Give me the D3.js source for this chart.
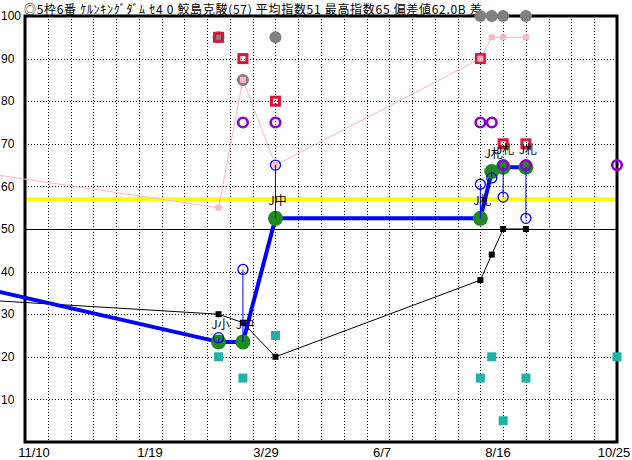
<!DOCTYPE html>
<html>
<head>
<meta charset="utf-8">
<script src="https://cdn.jsdelivr.net/npm/d3@7"></script>
<style>
html,body{margin:0;padding:0;background:#fff;}
svg{display:block;}
</style>
</head>
<body>
<script>
// ---- data ----
const titleText = "◎5枠6番 ｹﾙﾝｷﾝｸﾞﾀﾞﾑ ｾ4 0 鮫島克駿(57) 平均指数51 最高指数65 偏差値62.0B 差";
const raceDates = ["2023-08-12","2024-02-23","2024-03-09","2024-03-29","2024-08-02","2024-08-09","2024-08-16","2024-08-30"];
const raceLabels = ["", "J小", "J中", "J中", "J札", "J札", "J札", "J札"];
const indexValues = [40.5, 23.5, 23.5, 52.5, 52.5, 63.5, 64.5, 64.5];
const blackValues = [34.5, 30, 28, 20, 38, 44, 50, 50];
const pinkValues = [66, 55, 85, 65, 90, 95, 95, 95];
const grayValues = [null, 95, 85, 95, 100, 100, 100, 100];
const crimsonValues = [null, 95, 90, 80, 90, null, 70, 70];
const purpleValues = [null, null, 75, 75, 75, 75, 65, 65];
const blueRingValues = [null, 24.5, 40.5, 65, 60.5, 62, 57.5, 52.5];
const tealValues = [null, 20, 15, 25, 15, 20, 5, 15];
const todayDate = "2024-10-25";
const todayPurple = 65;
const todayTeal = 20;
const averageValue = 57;
const baseValue = 50;
const yTickValues = [10, 20, 30, 40, 50, 60, 70, 80, 90, 100];
const xTickLabels = ["11/10", "1/19", "3/29", "6/7", "8/16", "10/25"];
const domainStart = "2023-10-27";
const domainEnd = "2024-10-25";
const gridStart = "2023-11-10";

// ---- setup ----
const W = 632, H = 460;
const L = 25, R = 617, T = 16, B = 442;
const parse = d3.timeParse("%Y-%m-%d");
const x = d3.scaleTime().domain([parse(domainStart), parse(domainEnd)]).range([L, R]);
const y = d3.scaleLinear().domain([0, 100]).range([B, T]);
const xl = d3.scalePoint().domain(xTickLabels).range([34, 614]);

const svg = d3.select("body").append("svg").attr("width", W).attr("height", H);
svg.append("rect").attr("width", W).attr("height", H).attr("fill", "#fff");

const races = raceDates.map((d, i) => ({
  date: parse(d), label: raceLabels[i], idx: indexValues[i], blk: blackValues[i],
  pink: pinkValues[i], gray: grayValues[i], crim: crimsonValues[i],
  purp: purpleValues[i], ring: blueRingValues[i], teal: tealValues[i]
}));
const today = parse(todayDate);

// grid
const grid = svg.append("g").attr("shape-rendering", "crispEdges");
const vDates = d3.timeDay.range(parse(gridStart), parse(domainEnd), 14);
grid.selectAll("line.v").data(vDates).join("line")
  .attr("x1", d => Math.round(x(d)) + 0.5).attr("x2", d => Math.round(x(d)) + 0.5)
  .attr("y1", T).attr("y2", B)
  .attr("stroke", "#000").attr("stroke-width", 1).attr("stroke-dasharray", "1,2");
grid.selectAll("line.h").data(yTickValues.filter(v => v !== baseValue && v !== 100)).join("line")
  .attr("x1", L).attr("x2", R)
  .attr("y1", d => Math.round(y(d)) + 0.5).attr("y2", d => Math.round(y(d)) + 0.5)
  .attr("stroke", "#000").attr("stroke-width", 1).attr("stroke-dasharray", "1,2");
grid.append("line")
  .attr("x1", L).attr("x2", R)
  .attr("y1", Math.round(y(baseValue)) + 0.5).attr("y2", Math.round(y(baseValue)) + 0.5)
  .attr("stroke", "#000").attr("stroke-width", 1);

// average (yellow) line
svg.append("line").attr("x1", L).attr("x2", R)
  .attr("y1", y(averageValue)).attr("y2", y(averageValue))
  .attr("stroke", "#ffff00").attr("stroke-width", 4);

// frame
svg.append("rect").attr("x", L).attr("y", T).attr("width", R - L).attr("height", B - T)
  .attr("fill", "none").attr("stroke", "#000").attr("stroke-width", 3);

// y tick labels
svg.append("g").selectAll("text").data(yTickValues).join("text")
  .attr("x", 1).attr("y", d => y(d)).attr("dy", "0.35em")
  .attr("font-family", "Liberation Sans, Arial, sans-serif").attr("font-size", 12)
  .attr("fill", "#000").text(d => d);

// x tick labels
svg.append("g").selectAll("text").data(xTickLabels).join("text")
  .attr("x", d => xl(d)).attr("y", 457).attr("text-anchor", "middle")
  .attr("font-family", "Liberation Sans, Arial, sans-serif").attr("font-size", 13)
  .attr("fill", "#000").text(d => d);

// title
svg.append("text").attr("x", 24).attr("y", 14)
  .attr("font-family", "Noto Sans CJK JP, sans-serif").attr("font-size", 12)
  .attr("letter-spacing", 0.7)
  .attr("fill", "#000").text(titleText);

// lines
const lineOf = key => d3.line().x(d => x(d.date)).y(d => y(d[key]));
svg.append("path").datum(races).attr("d", lineOf("pink"))
  .attr("fill", "none").attr("stroke", "#ffb6c1").attr("stroke-width", 1);
svg.append("path").datum(races).attr("d", lineOf("blk"))
  .attr("fill", "none").attr("stroke", "#000").attr("stroke-width", 1);
svg.append("path").datum(races).attr("d", lineOf("idx"))
  .attr("fill", "none").attr("stroke", "#0000ff").attr("stroke-width", 4).attr("stroke-linejoin", "round");

// gray circles
svg.append("g").selectAll("circle").data(races.filter(d => d.gray != null)).join("circle")
  .attr("cx", d => x(d.date)).attr("cy", d => y(d.gray)).attr("r", 6).attr("fill", "#808080");
// crimson hollow squares
svg.append("g").selectAll("rect").data(races.filter(d => d.crim != null)).join("rect")
  .attr("x", d => x(d.date) - 4).attr("y", d => y(d.crim) - 4).attr("width", 8).attr("height", 8)
  .attr("fill", "none").attr("stroke", "#dc143c").attr("stroke-width", 3);
// pink squares
svg.append("g").selectAll("rect").data(races.slice(1)).join("rect")
  .attr("x", d => x(d.date) - 3).attr("y", d => y(d.pink) - 3).attr("width", 6).attr("height", 6)
  .attr("fill", "#ffb6c1");
// black squares
svg.append("g").selectAll("rect").data(races.slice(1)).join("rect")
  .attr("x", d => x(d.date) - 3).attr("y", d => y(d.blk) - 3).attr("width", 6).attr("height", 6)
  .attr("fill", "#000");
// green circles
svg.append("g").selectAll("circle").data(races.slice(1)).join("circle")
  .attr("cx", d => x(d.date)).attr("cy", d => y(d.idx)).attr("r", 7.5).attr("fill", "#1f8a1f");
// blue connectors & rings
const rings = races.filter(d => d.ring != null);
svg.append("g").selectAll("line").data(rings).join("line")
  .attr("x1", d => x(d.date)).attr("x2", d => x(d.date))
  .attr("y1", d => y(d.ring)).attr("y2", d => y(d.idx))
  .attr("stroke", "#0000ff").attr("stroke-width", 1);
svg.append("g").selectAll("circle").data(rings).join("circle")
  .attr("cx", d => x(d.date)).attr("cy", d => y(d.ring)).attr("r", 5)
  .attr("fill", "none").attr("stroke", "#0000ff").attr("stroke-width", 1.3);
// purple rings
const purp = races.filter(d => d.purp != null).map(d => ({date: d.date, v: d.purp}))
  .concat([{date: today, v: todayPurple}]);
svg.append("g").selectAll("circle").data(purp).join("circle")
  .attr("cx", d => x(d.date)).attr("cy", d => y(d.v)).attr("r", 4.8)
  .attr("fill", "none").attr("stroke", "#8a00d4").attr("stroke-width", 2.6);
// teal squares
const teal = races.filter(d => d.teal != null).map(d => ({date: d.date, v: d.teal}))
  .concat([{date: today, v: todayTeal}]);
svg.append("g").selectAll("rect").data(teal).join("rect")
  .attr("x", d => x(d.date) - 4.5).attr("y", d => y(d.v) - 4.5).attr("width", 9).attr("height", 9)
  .attr("fill", "#20b2aa");
// race labels
svg.append("g").selectAll("text").data(races.filter(d => d.label)).join("text")
  .attr("x", d => x(d.date) + 2).attr("y", d => y(d.idx) - 13)
  .attr("text-anchor", "middle")
  .attr("font-family", "Noto Sans CJK JP, sans-serif").attr("font-size", 12)
  .attr("fill", "#000").text(d => d.label);
</script>
</body>
</html>
